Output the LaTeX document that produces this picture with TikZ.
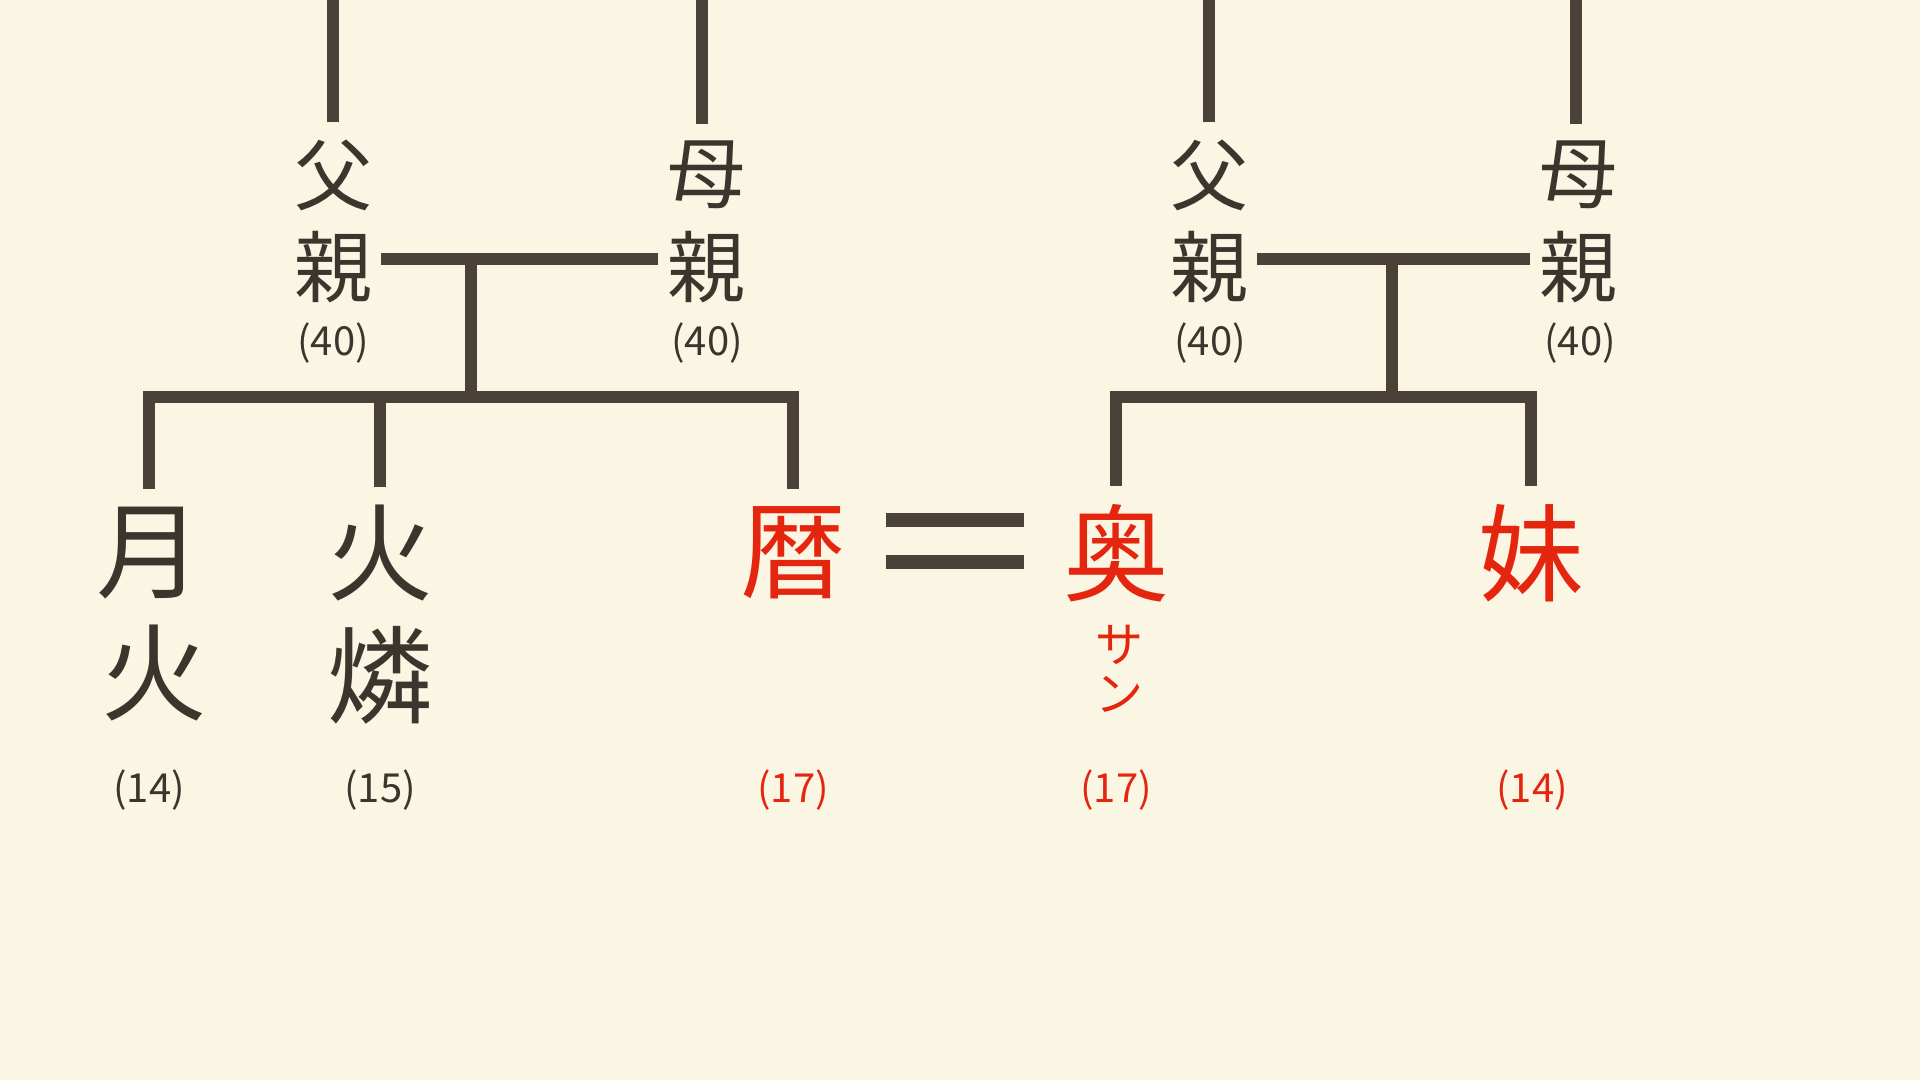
\documentclass[tikz,border=0pt]{standalone}
\usepackage{fontspec}
\newfontfamily\cjk{Noto Sans CJK JP}
\definecolor{bg}{HTML}{FBF5E3}
\definecolor{ink}{HTML}{3B352E}
\definecolor{linec}{HTML}{4A4239}
\definecolor{hired}{HTML}{E5260F}
\begin{document}
\begin{tikzpicture}[x=1pt,y=-1pt,
  parent/.style={font=\cjk\fontsize{78}{78}\selectfont, text=ink, inner xsep=9pt, inner ysep=17pt},
  child/.style={font=\cjk\fontsize{106}{106}\selectfont, text=ink, inner xsep=6pt, inner ysep=18pt},
  kana/.style={font=\cjk\fontsize{48}{48}\selectfont, text=hired, inner sep=0pt},
  age/.style={font=\cjk\fontsize{40}{40}\selectfont, text=ink, inner sep=0pt},
  red/.style={text=hired},
  link/.style={line width=12pt, draw=linec, line join=miter}]
\fill[bg] (0,0) rectangle (1920,1080);
\useasboundingbox (0,0) rectangle (1920,1080);
% parents, left family
\node[parent] (fA1) at (333,175) {父};
\node[parent] (fA2) at (333,267) {親};
\node[age] (fA3) at (333,343) {(40)};
\node[parent] (mA1) at (706,175) {母};
\node[parent] (mA2) at (706,267) {親};
\node[age] (mA3) at (707,343) {(40)};
% parents, right family
\node[parent] (fB1) at (1209,175) {父};
\node[parent] (fB2) at (1209,267) {親};
\node[age] (fB3) at (1210,343) {(40)};
\node[parent] (mB1) at (1578,175) {母};
\node[parent] (mB2) at (1578,267) {親};
\node[age] (mB3) at (1580,343) {(40)};
% children
\node[child] (k1) at (149,553) {月};
\node[child] (k1b) at (154,673) {火};
\node[age] (k1c) at (149,790) {(14)};
\node[child] (k2) at (380,553) {火};
\node[child] (k2b) at (380,675) {燐};
\node[age] (k2c) at (380,790) {(15)};
\node[child,red] (k3) at (793,553) {暦};
\node[age,red] (k3c) at (793,790) {(17)};
\node[child,red] (k4) at (1116,553) {奥};
\node[kana] (k4b) at (1119,645) {サ};
\node[kana] (k4d) at (1119,694) {ン};
\node[age,red] (k4c) at (1116,790) {(17)};
\node[child,red] (k5) at (1531,553) {妹};
\node[age,red] (k5c) at (1532,790) {(14)};
% top lines
\coordinate (tA) at (333,-10);
\coordinate (tB) at (702,-10);
\coordinate (tC) at (1209,-10);
\coordinate (tD) at (1576,-10);
\draw[link] (tA) -- (fA1.north);
\draw[link] (tB) -- (tB |- mA1.north);
\draw[link] (tC) -- (fB1.north);
\draw[link] (tD) -- (tD |- mB1.north);
% couples
\draw[link] ([yshift=8pt]fA2.east) -- ([yshift=8pt]mA2.west);
\draw[link] ([yshift=8pt]fB2.east) -- ([yshift=8pt]mB2.west);
\coordinate (cA) at (471,259);
\coordinate (jA) at (471,397);
\coordinate (cB) at (1392,259);
\coordinate (jB) at (1392,397);
\draw[link] (cA) -- (jA);
\draw[link] (cB) -- (jB);
% children lines
\draw[link] (k1.north) |- (jA) -| (k3.north);
\draw[link] (k2.north) -- (k2.north |- jA);
\draw[link] (k4.north) |- (jB) -| (k5.north);
% marriage sign
\fill[linec] (886,513) rectangle (1024,527);
\fill[linec] (886,555) rectangle (1024,569);
\end{tikzpicture}
\end{document}
